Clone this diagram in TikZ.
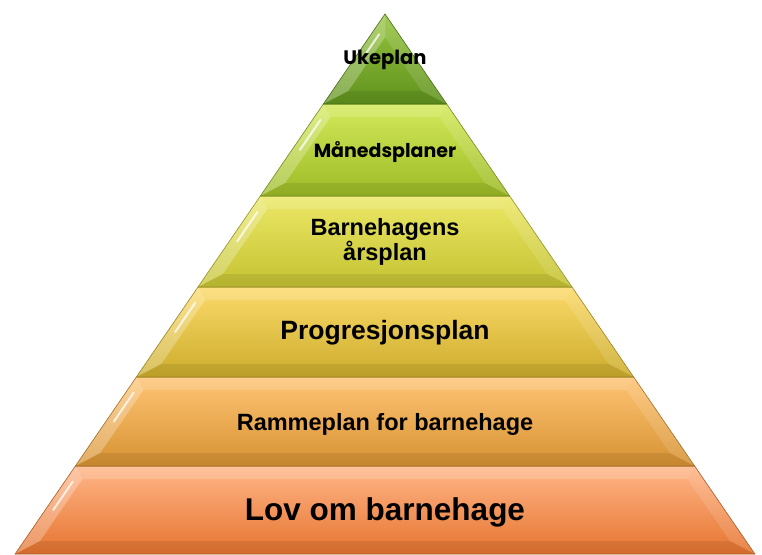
\documentclass[tikz,border=0pt]{standalone}
\usepackage{fontspec}
\setmainfont{Liberation Sans}
\newfontfamily\popfont{Poppins}
\usetikzlibrary{calc}
\definecolor{ukeTop}{RGB}{150,196,62}
\definecolor{ukeBot}{RGB}{96,146,30}
\definecolor{mndTop}{RGB}{212,234,90}
\definecolor{mndBot}{RGB}{156,186,38}
\definecolor{aarTop}{RGB}{236,232,102}
\definecolor{aarBot}{RGB}{196,194,50}
\definecolor{proTop}{RGB}{252,218,106}
\definecolor{proBot}{RGB}{204,172,44}
\definecolor{ramTop}{RGB}{255,196,116}
\definecolor{ramBot}{RGB}{214,146,50}
\definecolor{lovTop}{RGB}{255,182,136}
\definecolor{lovBot}{RGB}{230,116,48}
% one bevelled band of the pyramid: [top colour/bottom colour](top y:bottom y)
\def\tier[#1/#2](#3:#4){%
	\pgfmathsetmacro\xTL{385-0.685*(#3-14)}%
	\pgfmathsetmacro\xTR{385+0.685*(#3-14)}%
	\pgfmathsetmacro\xBL{385-0.685*(#4-14)}%
	\pgfmathsetmacro\xBR{385+0.685*(#4-14)}%
	\pgfmathsetmacro\yIT{max(#3+13,14+16/0.685)}%
	\pgfmathsetmacro\yIB{#4-13}%
	\pgfmathsetmacro\xITL{385-0.685*(\yIT-14)+16}%
	\pgfmathsetmacro\xITR{385+0.685*(\yIT-14)-16}%
	\pgfmathsetmacro\xIBL{385-0.685*(\yIB-14)+16}%
	\pgfmathsetmacro\xIBR{385+0.685*(\yIB-14)-16}%
	\shade[top color=#1, bottom color=#2] (\xTL,#3) -- (\xTR,#3) -- (\xBR,#4) -- (\xBL,#4) -- cycle;
	\fill[white, opacity=0.16] (\xTL,#3) -- (\xITL,\yIT) -- (\xITR,\yIT) -- (\xTR,#3) -- cycle;
	\fill[white, opacity=0.26] (\xTL,#3) -- (\xITL,\yIT) -- (\xIBL,\yIB) -- (\xBL,#4) -- cycle;
	\fill[white, opacity=0.12] (\xTR,#3) -- (\xITR,\yIT) -- (\xIBR,\yIB) -- (\xBR,#4) -- cycle;
	\fill[black, opacity=0.08] (\xBL,#4) -- (\xIBL,\yIB) -- (\xIBR,\yIB) -- (\xBR,#4) -- cycle;
	\draw[white, opacity=0.75, line width=2pt, line cap=round]
		($($(\xTL,#3)!0.5!(\xITL,\yIT)$)!0.12!($(\xBL,#4)!0.5!(\xIBL,\yIB)$)$) --
		($($(\xTL,#3)!0.5!(\xITL,\yIT)$)!0.5!($(\xBL,#4)!0.5!(\xIBL,\yIB)$)$);
	\draw[#2!75!black, line width=0.6pt] (\xTL,#3) -- (\xTR,#3) -- (\xBR,#4) -- (\xBL,#4) -- cycle;
}

\begin{document}
\begin{tikzpicture}[x=1pt, y=-1pt]
	%%%%% START %%%%%
	\useasboundingbox (0,0) rectangle (762,554);
	
	\tier[lovTop/lovBot](466:554);
	\tier[ramTop/ramBot](377:466);
	\tier[proTop/proBot](287:377);
	\tier[aarTop/aarBot](196:287);
	\tier[mndTop/mndBot](104:196);
	\tier[ukeTop/ukeBot](14:104);
	
	\node[font=\popfont\bfseries\fontsize{19.5}{22}\selectfont] (uke) at (385,60) {Ukeplan};
	\node[font=\popfont\bfseries\fontsize{19}{22}\selectfont] (mnd) at (385,152) {Månedsplaner};
	\node[font=\bfseries\fontsize{23.5}{25}\selectfont, align=center] (aar) at (385,242) {Barnehagens\\årsplan};
	\node[font=\bfseries\fontsize{26.5}{30}\selectfont] (pro) at (385,333) {Progresjonsplan};
	\node[font=\bfseries\fontsize{23.5}{27}\selectfont] (ram) at (385,424) {Rammeplan for barnehage};
	\node[font=\bfseries\fontsize{31.5}{36}\selectfont] (lov) at (385,512) {Lov om barnehage};
	
	%%%%% END %%%%%
\end{tikzpicture}
\end{document}
